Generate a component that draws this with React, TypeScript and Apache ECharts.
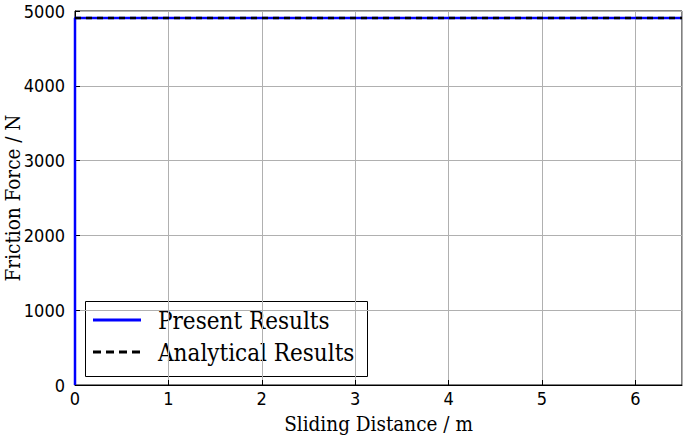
import React, { useEffect, useRef } from "react";
import * as echarts from "echarts";

const presentX = [0, 0, 6.5];
const presentY = [0, 4905, 4905];
const analyticalX = [0, 6.5];
const analyticalY = [4905, 4905];
const seriesNames = ["Present Results", "Analytical Results"];
const xTicks = [0, 1, 2, 3, 4, 5, 6];
const yTicks = [0, 1000, 2000, 3000, 4000, 5000];

const SERIF = "'DejaVu Serif Condensed', 'DejaVu Serif', serif";
const SANS = "'DejaVu Sans Condensed', 'DejaVu Sans', sans-serif";

export default function App() {
  const ref = useRef<HTMLDivElement>(null);
  useEffect(() => {
    if (!ref.current) return;
    const chart = echarts.init(ref.current, undefined, { renderer: "svg" });
    const lx = 85, ly = 301, lw = 282, lh = 75;
    chart.setOption({
      animation: false,
      backgroundColor: "#fff",
      textStyle: { fontFamily: SERIF },
      grid: {
        left: 75,
        right: 3,
        top: 11,
        bottom: 50,
        outerBoundsMode: "none",
        containLabel: false,
        show: true,
        borderColor: "#000",
        borderWidth: 1,
        backgroundColor: "transparent",
      },
      xAxis: {
        type: "value",
        min: 0,
        max: 6.5,
        interval: 1,
        name: "Sliding Distance / m",
        nameLocation: "middle",
        nameGap: 28,
        nameMoveOverlap: false,
        nameTextStyle: { fontFamily: SERIF, fontSize: 20.5, color: "#000" },
        axisLine: { show: true, lineStyle: { color: "#000" } },
        axisTick: { show: true, inside: true, length: 5, lineStyle: { color: "#000" } },
        axisLabel: {
          fontFamily: SANS,
          fontSize: 18,
          color: "#000",
          margin: 4,
          showMaxLabel: false,
          formatter: (v: number) => (xTicks.includes(v) ? String(v) : ""),
        },
        splitLine: { show: true, lineStyle: { color: "#b0b0b0", width: 1 } },
      },
      yAxis: {
        type: "value",
        min: 0,
        max: 5000,
        interval: 1000,
        name: "Friction Force / N",
        nameLocation: "middle",
        nameGap: 52,
        nameMoveOverlap: false,
        nameTextStyle: { fontFamily: SERIF, fontSize: 20.5, color: "#000" },
        axisLine: { show: true, lineStyle: { color: "#000" } },
        axisTick: { show: true, inside: true, length: 5, lineStyle: { color: "#000" } },
        axisLabel: {
          fontFamily: SANS,
          fontSize: 18,
          color: "#000",
          margin: 10,
          formatter: (v: number) => (yTicks.includes(v) ? String(v) : ""),
        },
        splitLine: { show: true, lineStyle: { color: "#b0b0b0", width: 1 } },
      },
      graphic: [
        {
          type: "group",
          z: 100,
          children: [
            {
              type: "rect",
              shape: { x: lx + 0.5, y: ly + 0.5, width: lw, height: lh },
              style: { fill: "#fff", stroke: "#000", lineWidth: 1 },
            },
            {
              type: "line",
              shape: { x1: 93, y1: 320, x2: 141, y2: 320 },
              style: { stroke: "#0000ff", lineWidth: 3 },
            },
            {
              type: "line",
              shape: { x1: 93, y1: 352, x2: 141, y2: 352 },
              style: { stroke: "#000", lineWidth: 3, lineDash: [8, 5] },
            },
            {
              type: "text",
              x: 158,
              y: 321,
              style: {
                text: seriesNames[0],
                font: `24px ${SERIF}`,
                fill: "#000",
                verticalAlign: "middle",
              },
            },
            {
              type: "text",
              x: 158,
              y: 353,
              style: {
                text: seriesNames[1],
                font: `24px ${SERIF}`,
                fill: "#000",
                verticalAlign: "middle",
              },
            },
          ],
        },
      ],
      series: [
        {
          name: seriesNames[0],
          type: "line",
          symbol: "none",
          data: presentX.map((x, i) => [x, presentY[i]]),
          lineStyle: { color: "#0000ff", width: 2.5 },
          z: 2,
        },
        {
          name: seriesNames[1],
          type: "line",
          symbol: "none",
          data: analyticalX.map((x, i) => [x, analyticalY[i]]),
          lineStyle: { color: "#000", width: 2.5, type: [6, 5] },
          z: 3,
        },
      ],
    });
    return () => chart.dispose();
  }, []);
  return (
    <div
      ref={ref}
      style={{ position: "fixed", left: 0, top: 0, width: 685, height: 435 }}
    />
  );
}
